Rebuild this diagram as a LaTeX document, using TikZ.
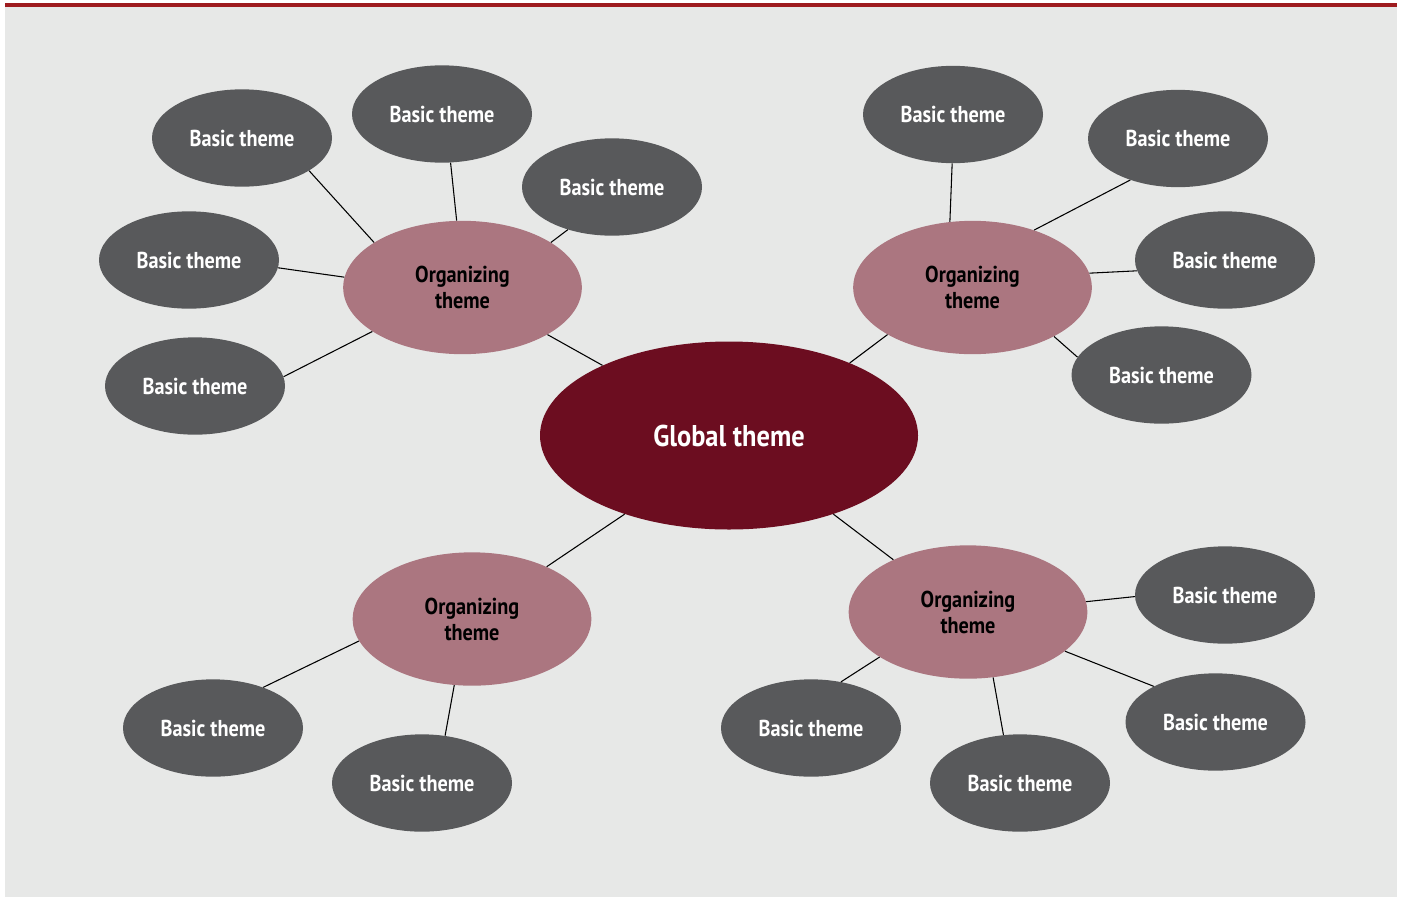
\documentclass[tikz,border=0pt]{standalone}
\usepackage{fontspec}
\setmainfont{PT Sans}[FakeStretch=0.88]
\usetikzlibrary{shapes.geometric}

\definecolor{bggrey}{HTML}{E7E8E7}
\definecolor{topred}{HTML}{9E1B1F}
\definecolor{globalred}{HTML}{6C0D20}
\definecolor{orgrose}{HTML}{AB7680}
\definecolor{basicgrey}{HTML}{58595B}

\begin{document}
\begin{tikzpicture}[x=0.75pt, y=-0.75pt]
\useasboundingbox (0, 0) rectangle (1401, 896);
\fill[white] (0, 0) rectangle (1401, 896);
\fill[bggrey] (5, 6.5) rectangle (1397, 900);
\fill[topred] (5, 3) rectangle (1397, 6.5);

\begin{scope}[every node/.style={ellipse, inner sep=0pt, font=\bfseries\fontsize{17.25}{19.5}\selectfont}]
    \node (global) at (729, 435.5) [fill=globalred, text=white, minimum width=283.5pt, minimum height=141pt,
        font=\bfseries\fontsize{22.5}{26}\selectfont] {Global theme};

    \node (orgnw) at (462.5, 287.5) [fill=orgrose, minimum width=179pt, minimum height=100pt, align=center] {Organizing\\theme};
    \node (orgne) at (972.5, 287.5) [fill=orgrose, minimum width=179pt, minimum height=100pt, align=center] {Organizing\\theme};
    \node (orgsw) at (472, 619) [fill=orgrose, minimum width=179pt, minimum height=100pt, align=center] {Organizing\\theme};
    \node (orgse) at (968, 612) [fill=orgrose, minimum width=179pt, minimum height=100pt, align=center] {Organizing\\theme};

    \node (nwa) at (242, 138) [fill=basicgrey, text=white, minimum width=135pt, minimum height=73pt] {Basic theme};
    \node (nwb) at (442, 114) [fill=basicgrey, text=white, minimum width=135pt, minimum height=73pt] {Basic theme};
    \node (nwc) at (612, 187) [fill=basicgrey, text=white, minimum width=135pt, minimum height=73pt] {Basic theme};
    \node (nwd) at (189, 260) [fill=basicgrey, text=white, minimum width=135pt, minimum height=73pt] {Basic theme};
    \node (nwe) at (195, 386) [fill=basicgrey, text=white, minimum width=135pt, minimum height=73pt] {Basic theme};

    \node (nea) at (953, 114.5) [fill=basicgrey, text=white, minimum width=135pt, minimum height=73pt] {Basic theme};
    \node (neb) at (1178, 138.5) [fill=basicgrey, text=white, minimum width=135pt, minimum height=73pt] {Basic theme};
    \node (nec) at (1225, 260) [fill=basicgrey, text=white, minimum width=135pt, minimum height=73pt] {Basic theme};
    \node (ned) at (1161.5, 375) [fill=basicgrey, text=white, minimum width=135pt, minimum height=73pt] {Basic theme};

    \node (swa) at (213, 728) [fill=basicgrey, text=white, minimum width=135pt, minimum height=73pt] {Basic theme};
    \node (swb) at (422, 783) [fill=basicgrey, text=white, minimum width=135pt, minimum height=73pt] {Basic theme};

    \node (sea) at (1225, 595) [fill=basicgrey, text=white, minimum width=135pt, minimum height=73pt] {Basic theme};
    \node (seb) at (1215.5, 722) [fill=basicgrey, text=white, minimum width=135pt, minimum height=73pt] {Basic theme};
    \node (sec) at (1020, 783) [fill=basicgrey, text=white, minimum width=135pt, minimum height=73pt] {Basic theme};
    \node (sed) at (811, 728) [fill=basicgrey, text=white, minimum width=135pt, minimum height=73pt] {Basic theme};
\end{scope}

\begin{scope}[every edge/.style={draw=black, line width=0.8pt}]
    \path (orgnw.-29) edge (global.151);
    \path (orgne.209) edge (global.31.5);
    \path (orgsw.35) edge (global.217.5);
    \path (orgse.145) edge (global.-37.7);

    \path (nwa.-26) edge (orgnw.153);
    \path (nwb.-80) edge (orgnw.95);
    \path (nwc.224) edge (orgnw.27);
    \path (nwd.-5) edge (orgnw.175);
    \path (nwe.6.5) edge (orgnw.206);

    \path (nea.269) edge (orgne.109);
    \path (neb.221) edge (orgne.43);
    \path (nec.187) edge (orgne.7.6);
    \path (ned.168) edge (orgne.-31);

    \path (swa.39) edge (orgsw.191.5);
    \path (swb.64) edge (orgsw.255.5);

    \path (sea.181) edge (orgse.5);
    \path (seb.150) edge (orgse.-22.5);
    \path (sec.109.5) edge (orgse.-69);
    \path (sed.57.6) edge (orgse.207);
\end{scope}
\end{tikzpicture}
\end{document}
